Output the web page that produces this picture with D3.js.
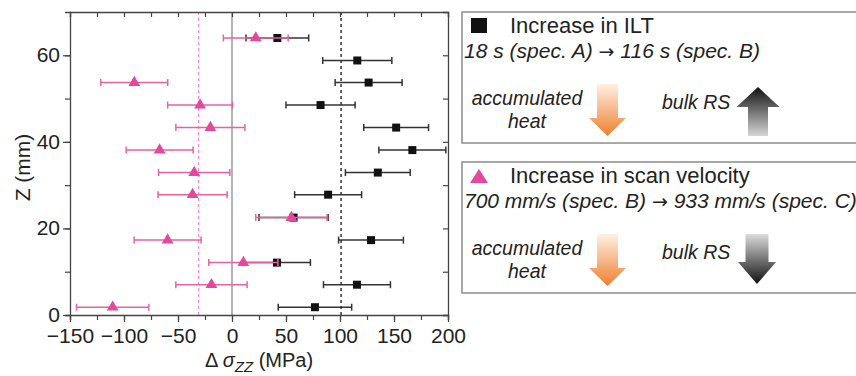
<!DOCTYPE html>
<html>
<head>
<meta charset="utf-8">
<script src="https://cdn.jsdelivr.net/npm/d3@7"></script>
<style>
  body { margin: 0; background: #fff; }
  svg { display: block; font-family: 'Liberation Sans', Arial, sans-serif; }
</style>
</head>
<body>
<svg id="chart" width="856" height="376"></svg>
<script>
// ILT series (black squares)
const iltZ = [64, 58.8, 53.7, 48.5, 43.3, 38.1, 32.9, 27.8, 22.5, 17.3, 12.1, 7.0, 1.8];
const iltDelta = [42, 116, 126.5, 82, 152, 167, 135, 89, 57, 128.7, 41.6, 115.7, 76.8];
const iltErr = [29, 32, 31, 32, 30, 31, 30, 31, 32, 30, 31, 31, 34];

// scan velocity series (pink triangles)
const velZ = [64, 53.7, 48.5, 43.3, 38.1, 32.9, 27.8, 22.5, 17.3, 12.1, 7.0, 1.8];
const velDelta = [22, -90.5, -29.6, -20, -67, -35, -36.5, 55, -59.6, 10.5, -19, -110.5];
const velErr = [30, 31, 30, 32, 31, 33, 32, 33, 31, 32, 33, 33.5];

// mean lines
const iltMean = 101;
const velMean = -31;

const xTicks = [-150, -100, -50, 0, 50, 100, 150, 200];
const yTicks = [0, 20, 40, 60];

const pink = '#e2489c';
const pinkBar = '#e8629f';

const svg = d3.select('#chart');
const margin = { left: 70, right: 408, top: 12, bottom: 61 };
const W = 856, H = 376;

const x = d3.scaleLinear().domain([-150, 200]).range([margin.left, W - margin.right]);
const y = d3.scaleLinear().domain([0, 70]).range([H - margin.bottom, margin.top]);

const plot = svg.append('g');

// reference lines
plot.append('line')
	.attr('x1', x(0)).attr('x2', x(0))
	.attr('y1', y(0)).attr('y2', y(70))
	.attr('stroke', '#8a8a8a').attr('stroke-width', 1.3);
plot.append('line')
	.attr('x1', x(velMean)).attr('x2', x(velMean))
	.attr('y1', y(0)).attr('y2', y(70))
	.attr('stroke', '#f58cc2').attr('stroke-width', 1.2)
	.attr('stroke-dasharray', '3,3');
plot.append('line')
	.attr('x1', x(iltMean)).attr('x2', x(iltMean))
	.attr('y1', y(0)).attr('y2', y(70))
	.attr('stroke', '#333').attr('stroke-width', 1.5)
	.attr('stroke-dasharray', '3,3');

// axes
const tickFont = g => g.selectAll('text')
	.attr('font-size', 21).attr('fill', '#222')
	.attr('font-family', "'Liberation Sans', Arial, sans-serif");
const axisStyle = g => {
	g.select('.domain').attr('stroke', '#444').attr('stroke-width', 1.3);
	g.selectAll('.tick line').attr('stroke', '#444').attr('stroke-width', 1.2);
};

const xMinor = d3.range(-150, 201, 25);
const yMinor = d3.range(0, 71, 10);

svg.append('g')
	.attr('transform', `translate(0,${y(0)})`)
	.call(d3.axisBottom(x).tickValues(xMinor).tickSize(5).tickFormat(''))
	.call(axisStyle);
svg.append('g')
	.attr('transform', `translate(0,${y(0)})`)
	.call(d3.axisBottom(x).tickValues(xTicks).tickSize(7).tickPadding(6).tickFormat(d3.format('d')))
	.call(axisStyle).call(tickFont)
	.call(g => g.select('.domain').remove());

svg.append('g')
	.attr('transform', `translate(0,${y(70)})`)
	.call(d3.axisTop(x).tickValues(xMinor).tickSize(-5).tickFormat(''))
	.call(axisStyle);

svg.append('g')
	.attr('transform', `translate(${x(-150)},0)`)
	.call(d3.axisLeft(y).tickValues(yMinor.filter(v => v < 70)).tickSize(5).tickFormat(''))
	.call(axisStyle);
svg.append('g')
	.attr('transform', `translate(${x(-150)},0)`)
	.call(d3.axisLeft(y).tickValues(yTicks).tickSize(7).tickPadding(3).tickFormat(d3.format('d')))
	.call(axisStyle).call(tickFont)
	.call(g => g.select('.domain').remove())
	.call(g => g.selectAll('.tick text').attr('dy', '0.3em'));

svg.append('g')
	.attr('transform', `translate(${x(200)},0)`)
	.call(d3.axisRight(y).tickValues(yMinor.filter(v => v < 70)).tickSize(-5).tickFormat(''))
	.call(axisStyle);

// axis titles
svg.append('text')
	.attr('transform', `translate(30,${(y(0) + y(70)) / 2 + 4}) rotate(-90)`)
	.attr('text-anchor', 'middle')
	.attr('font-size', 21).attr('fill', '#222')
	.text('Z (mm)');

const xt = svg.append('text')
	.attr('x', 259).attr('y', 367)
	.attr('text-anchor', 'middle')
	.attr('font-size', 20).attr('fill', '#222');
xt.append('tspan').text('Δ ');
xt.append('tspan').attr('font-style', 'italic').text('σ');
xt.append('tspan').attr('font-style', 'italic').attr('font-size', 15).attr('dy', 5).text('ZZ');
xt.append('tspan').attr('dy', -5).text(' (MPa)');

// error bars + markers
function drawSeries(zs, vals, errs, color, symbol, size, cls) {
	const rows = zs.map((z, i) => ({ z, v: vals[i], e: errs[i] }));
	const g = plot.append('g').attr('class', cls);
	const bars = g.selectAll('g.bar').data(rows).enter().append('g').attr('class', 'bar');
	bars.append('line')
		.attr('x1', d => x(d.v - d.e)).attr('x2', d => x(d.v + d.e))
		.attr('y1', d => y(d.z)).attr('y2', d => y(d.z))
		.attr('stroke', color.bar).attr('stroke-width', 1.5);
	bars.append('line')
		.attr('x1', d => x(d.v - d.e)).attr('x2', d => x(d.v - d.e))
		.attr('y1', d => y(d.z) - 3.5).attr('y2', d => y(d.z) + 3.5)
		.attr('stroke', color.bar).attr('stroke-width', 1.5);
	bars.append('line')
		.attr('x1', d => x(d.v + d.e)).attr('x2', d => x(d.v + d.e))
		.attr('y1', d => y(d.z) - 3.5).attr('y2', d => y(d.z) + 3.5)
		.attr('stroke', color.bar).attr('stroke-width', 1.5);
	g.selectAll('path.mark').data(rows).enter().append('path')
		.attr('class', 'mark')
		.attr('d', d3.symbol().type(symbol).size(size))
		.attr('transform', d => `translate(${x(d.v)},${y(d.z)})`)
		.attr('fill', color.fill);
}

drawSeries(iltZ, iltDelta, iltErr, { bar: '#333', fill: '#111' }, d3.symbolSquare, 64, 'ilt');
drawSeries(velZ, velDelta, velErr, { bar: pinkBar, fill: pink }, d3.symbolTriangle, 60, 'vel');

// legend boxes
const defs = svg.append('defs');
function grad(id, top, bottom) {
	const lg = defs.append('linearGradient').attr('id', id)
		.attr('x1', 0).attr('y1', 0).attr('x2', 0).attr('y2', 1);
	lg.append('stop').attr('offset', '0%').attr('stop-color', top);
	lg.append('stop').attr('offset', '100%').attr('stop-color', bottom);
}
grad('orangeDown', '#fff0e4', '#ef7f30');
grad('blackUp', '#111', '#d6d6d6');
grad('blackDown', '#dcdcdc', '#111');

function downArrow(cx, top, headY, tip, shaftW, headW) {
	return `M${cx - shaftW / 2},${top} L${cx + shaftW / 2},${top} L${cx + shaftW / 2},${headY}
		L${cx + headW / 2},${headY} L${cx},${tip} L${cx - headW / 2},${headY}
		L${cx - shaftW / 2},${headY} Z`;
}

const legendItems = [
	{ top: 12, title: 'Increase in ILT', from: '18 s (spec. A) ', to: ' 116 s (spec. B)', marker: 'square', rsUp: true },
	{ top: 162, title: 'Increase in scan velocity', from: '700 mm/s (spec. B) ', to: ' 933 mm/s (spec. C)', marker: 'triangle', rsUp: false },
];

legendItems.forEach(item => {
	const g = svg.append('g').attr('transform', `translate(0,${item.top})`);
	g.append('rect')
		.attr('x', 462).attr('y', 0).attr('width', 420).attr('height', 131)
		.attr('fill', 'none').attr('stroke', '#8c8c8c').attr('stroke-width', 1.5);
	if (item.marker === 'square') {
		g.append('rect').attr('x', 471).attr('y', 6).attr('width', 16).attr('height', 15).attr('fill', '#111');
	} else {
		g.append('path').attr('d', 'M470,21 L488,21 L479,7 Z').attr('fill', pink);
	}
	g.append('text').attr('x', 510).attr('y', 21)
		.attr('font-size', 22).attr('fill', '#222').text(item.title);
	const t = g.append('text').attr('x', 464).attr('y', 46)
		.attr('font-size', 21).attr('font-style', 'italic').attr('fill', '#222');
	t.append('tspan').text(item.from);
	t.append('tspan').attr('font-family', "'DejaVu Sans', sans-serif").attr('font-style', 'normal')
		.attr('font-size', 19).text('\u2192');
	t.append('tspan').text(item.to);
	g.append('text').attr('x', 527).attr('y', 93).attr('text-anchor', 'middle')
		.attr('font-size', 19.5).attr('font-style', 'italic').attr('fill', '#222').text('accumulated');
	g.append('text').attr('x', 527).attr('y', 116).attr('text-anchor', 'middle')
		.attr('font-size', 19.5).attr('font-style', 'italic').attr('fill', '#222').text('heat');
	g.append('text').attr('x', 662).attr('y', 97)
		.attr('font-size', 19.5).attr('font-style', 'italic').attr('fill', '#222').text('bulk RS');
	g.append('path')
		.attr('d', downArrow(607.5, 72, 106, 124, 21, 37))
		.attr('fill', 'url(#orangeDown)');
	if (item.rsUp) {
		g.append('path')
			.attr('d', downArrow(758, 124, 95, 75, 20, 43))
			.attr('fill', 'url(#blackUp)');
	} else {
		g.append('path')
			.attr('d', downArrow(757, 72, 100, 122, 23, 38))
			.attr('fill', 'url(#blackDown)');
	}
});
</script>
</body>
</html>
